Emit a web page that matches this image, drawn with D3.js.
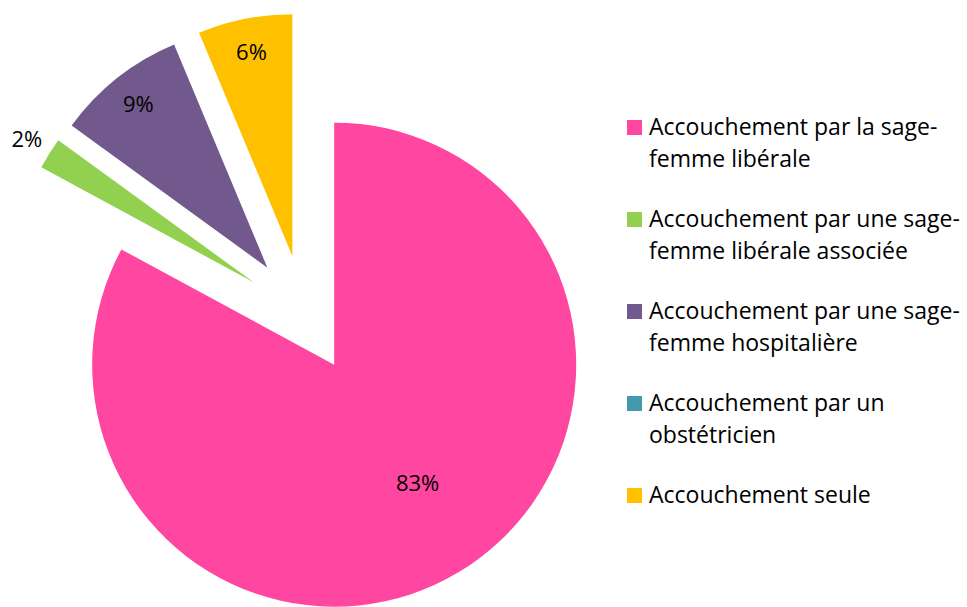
<!DOCTYPE html>
<html>
<head>
<meta charset="utf-8">
<script src="https://cdn.jsdelivr.net/npm/d3@7"></script>
<style>
  body { margin: 0; background: #fff; }
  svg { display: block; font-family: "Open Sans", Lato, sans-serif; }
</style>
</head>
<body>
<svg width="967" height="607"></svg>
<script>
// Data (shares in %)
const categories = [
  ["Accouchement par la sage-", "femme libérale"],
  ["Accouchement par une sage-", "femme libérale associée"],
  ["Accouchement par une sage-", "femme hospitalière"],
  ["Accouchement par un", "obstétricien"],
  ["Accouchement seule"]
];
const values = [82.9, 2.1, 8.7, 0, 6.3];
const colors = ["#FF46A0", "#92D050", "#71598E", "#4599AE", "#FFC000"];

const svg = d3.select("svg"),
      cx = 304, cy = 314,
      radius = 242,
      explode = 59;

const pie = d3.pie().sort(null).value(d => d);
const arcs = pie(values);

const arc = d3.arc().innerRadius(0).outerRadius(radius);

// label distance (fraction of radius) per slice, Excel "best fit" style
const labelR = [0.6, 1.11, 0.86, 0.86, 0.86];
const labelShift = [-0.075, 0, 0, 0, 0];

const g = svg.append("g").attr("transform", `translate(${cx},${cy})`);

const slices = g.selectAll("g.slice")
  .data(arcs)
  .join("g")
  .attr("class", "slice")
  .attr("transform", d => {
    const [ox, oy] = d3.pointRadial((d.startAngle + d.endAngle) / 2, explode);
    return `translate(${ox},${oy})`;
  });

slices.append("path")
  .attr("d", arc)
  .attr("fill", (d, i) => colors[i]);

const pct = d3.format(".0%");

slices.filter(d => d.value > 0)
  .append("text")
  .attr("transform", d => {
    const idx = d.index;
    const a = (d.startAngle + d.endAngle) / 2 + labelShift[idx];
    const [lx, ly] = d3.pointRadial(a, radius * labelR[idx]);
    return `translate(${lx},${ly})`;
  })
  .attr("text-anchor", "middle")
  .attr("dy", "0.35em")
  .attr("font-size", "22px")
  .attr("fill", "#000")
  .text(d => pct(d.value / 100));

// Legend
const legend = svg.append("g").attr("transform", "translate(627,0)");
const firstBaseline = 135, step = 92, lineH = 32;

const items = legend.selectAll("g.item")
  .data(categories)
  .join("g")
  .attr("class", "item")
  .attr("transform", (d, i) => `translate(0,${firstBaseline + i * step})`);

items.append("rect")
  .attr("x", 0)
  .attr("y", -15)
  .attr("width", 15)
  .attr("height", 15)
  .attr("fill", (d, i) => colors[i]);

items.append("text")
  .attr("x", 22)
  .attr("font-size", "23px")
  .attr("fill", "#000")
  .selectAll("tspan")
  .data(d => d)
  .join("tspan")
  .attr("x", 22)
  .attr("y", (d, i) => i * lineH)
  .text(d => d);
</script>
</body>
</html>
